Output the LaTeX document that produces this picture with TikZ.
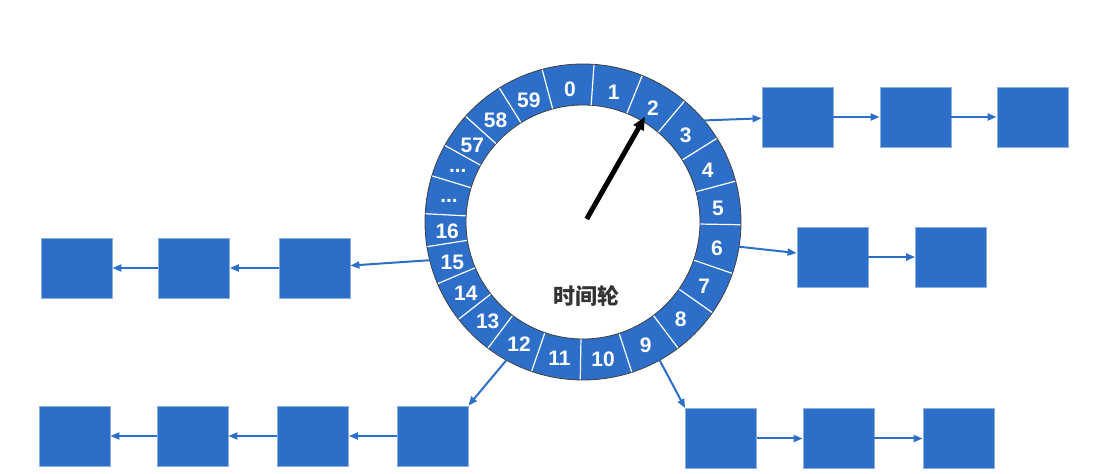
\documentclass[tikz,border=0pt]{standalone}
\usepackage{fontspec}
\setsansfont{Liberation Sans}
\newfontfamily\cjk{Noto Sans CJK SC}
\usepackage{tikz}
\usepackage{xcolor}
\usetikzlibrary{arrows.meta}

\definecolor{wheelblue}{HTML}{2D6EC8}
\definecolor{rimgray}{HTML}{404040}
\definecolor{labelgray}{HTML}{333333}

\tikzset{
    slot/.style={rectangle, fill=wheelblue, draw=wheelblue!55!white, line width=0.8pt,
        minimum width=71pt, minimum height=60pt, inner sep=0pt},
    link/.style={draw=wheelblue, line width=2pt, -{Triangle[length=9pt,width=7pt]}},
    tick/.style={font=\sffamily\bfseries\fontsize{21}{21}\selectfont, text=white, yshift=-2.5pt},
}

\begin{document}
\begin{tikzpicture}[x=1pt, y=1pt]
    \useasboundingbox (0,0) rectangle (1098,474);
    \coordinate (C) at (583,252);

    % the wheel with its 60 buckets
    \draw[fill=wheelblue, draw=rimgray, line width=0.8pt, even odd rule] (C) circle (158) (C) circle (117);
    \begin{scope}[shift={(C)}]
        \foreach \a/\b/\t in {105/86/0, 86/68/1, 68/50/2, 50/32/3, 32/15/4, 15/-1/5,
                -1/-19/6, -19/-35/7, -35/-53/8, -53/-72/9, -72/-91/10, -91/-109/11,
                -109/-127/12, -127/-142/13, -142/-157/14, -157/-171/15, -171/-183/16,
                -183/-197/{...}, -197/-209/{...}, -209/-222/57, -222/-238/58, -238/-255/59} {
            \draw[white, line width=1.2pt] (\a:117.5) -- (\a:157.5);
            \node[tick] at ({(\a+\b)/2}:136) {\t};
        }
        \coordinate (r2) at (40:158);
        \coordinate (r6) at (-9:158);
        \coordinate (r9) at (-61:158);
        \coordinate (r12) at (241:158);
        \coordinate (r15) at (194:158);
    \end{scope}

    % the hand
    \coordinate (hub) at (586.7,255);
    \coordinate (hand) at (645,357.3);
    \draw[line width=5pt, -{Triangle[length=13pt,width=11pt]}] (hub) -- (hand);
    \node[font=\cjk\bfseries\fontsize{22}{22}\selectfont, text=labelgray] (title) at (586,178) {时间轮};

    % bucket 2
    \node[slot] (t1) at (797.5,357) {};
    \node[slot] (t2) at (915.5,357) {};
    \node[slot] (t3) at (1032.5,357) {};
    \draw[link] (r2) -- (t1);
    \draw[link] (t1) -- (t2);
    \draw[link] (t2) -- (t3);

    % bucket 6
    \node[slot] (s1) at (832.5,217) {};
    \node[slot] (s2) at (951,217) {};
    \draw[link] (r6) -- (s1);
    \draw[link] (s1) -- (s2);

    % bucket 15
    \node[slot] (l3) at (314.5,206) {};
    \node[slot] (l2) at (194,206) {};
    \node[slot] (l1) at (76.5,206) {};
    \draw[link] (r15) -- (l3);
    \draw[link] (l3) -- (l2);
    \draw[link] (l2) -- (l1);

    % bucket 12
    \node[slot] (b4) at (432.5,38) {};
    \node[slot] (b3) at (313,38) {};
    \node[slot] (b2) at (192.5,38) {};
    \node[slot] (b1) at (74.5,38) {};
    \draw[link] (r12) -- (b4.north east);
    \draw[link] (b4) -- (b3);
    \draw[link] (b3) -- (b2);
    \draw[link] (b2) -- (b1);

    % bucket 9
    \node[slot] (d1) at (721,35.5) {};
    \node[slot] (d2) at (838.5,35.5) {};
    \node[slot] (d3) at (958.5,35.5) {};
    \draw[link] (r9) -- (d1.north west);
    \draw[link] (d1) -- (d2);
    \draw[link] (d2) -- (d3);
\end{tikzpicture}
\end{document}
